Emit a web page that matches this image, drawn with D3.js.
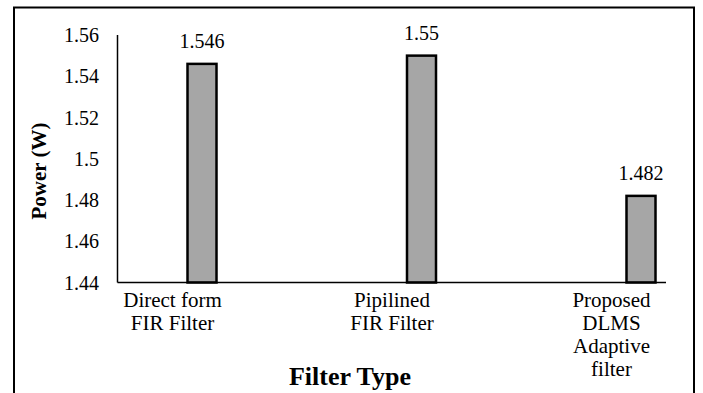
<!DOCTYPE html>
<html>
<head>
<meta charset="utf-8">
<script src="https://cdn.jsdelivr.net/npm/d3@7"></script>
<style>
  html, body { margin: 0; padding: 0; background: #fff; }
  svg { display: block; }
</style>
</head>
<body>
<script>
const categories = ["Direct form FIR Filter", "Pipilined FIR Filter", "Proposed DLMS Adaptive filter"];
const categoryLines = [["Direct form", "FIR Filter"], ["Pipilined", "FIR Filter"], ["Proposed", "DLMS", "Adaptive", "filter"]];
const powerValues = [1.546, 1.55, 1.482];
const yTicks = [1.44, 1.46, 1.48, 1.5, 1.52, 1.54, 1.56];
const yTickLabels = ["1.44", "1.46", "1.48", "1.5", "1.52", "1.54", "1.56"];
const xTitle = "Filter Type";
const yTitle = "Power (W)";

const FONT = "'Liberation Serif', 'Times New Roman', Times, serif";
const W = 703, H = 393;
const svg = d3.select("body").append("svg").attr("width", W).attr("height", H)
  .attr("font-family", FONT);

// outer border (open at bottom)
svg.append("path")
  .attr("d", `M14,${H + 5} L14,7.5 L694,7.5 L694,${H + 5}`)
  .attr("fill", "none").attr("stroke", "#000").attr("stroke-width", 2);

const plotLeft = 117.5, plotRight = 666, plotTop = 35, plotBottom = 282.5;

const y = d3.scaleLinear().domain([1.44, 1.56]).range([plotBottom, plotTop]);
const x = d3.scalePoint().domain(categories).range([172.5, 611.5]);
const barOffset = 15, barWidth = 29;

// y tick labels
svg.append("g").selectAll("text").data(yTicks).join("text")
  .attr("font-family", FONT)
  .attr("x", 99).attr("y", d => y(d)).attr("dy", "0.35em")
  .attr("text-anchor", "end").attr("font-size", 20)
  .text((d, i) => yTickLabels[i]);

// bars
svg.append("g").selectAll("rect").data(powerValues).join("rect")
  .attr("x", (d, i) => x(categories[i]) + barOffset)
  .attr("y", d => y(d))
  .attr("width", barWidth)
  .attr("height", d => y(1.44) - y(d))
  .attr("fill", "#a6a6a6").attr("stroke", "#000").attr("stroke-width", 2.5);

// value labels
svg.append("g").selectAll("text").data(powerValues).join("text")
  .attr("font-family", FONT)
  .attr("x", (d, i) => x(categories[i]) + barOffset + barWidth / 2)
  .attr("y", d => y(d) - 16)
  .attr("text-anchor", "middle").attr("font-size", 20)
  .text(d => String(d));

// axes lines
svg.append("line").attr("x1", plotLeft).attr("x2", plotLeft).attr("y1", plotTop).attr("y2", plotBottom)
  .attr("stroke", "#000").attr("stroke-width", 1.5);
svg.append("line").attr("x1", plotLeft).attr("x2", plotRight).attr("y1", plotBottom).attr("y2", plotBottom)
  .attr("stroke", "#000").attr("stroke-width", 1.5);

// category labels
const cat = svg.append("g").selectAll("text").data(categories).join("text")
  .attr("font-family", FONT)
  .attr("x", d => x(d)).attr("y", 307)
  .attr("text-anchor", "middle").attr("font-size", 21);
cat.selectAll("tspan").data((d, i) => categoryLines[i]).join("tspan")
  .attr("x", function () { return d3.select(this.parentNode).attr("x"); })
  .attr("dy", (d, j) => j === 0 ? 0 : 23)
  .text(d => d);

// axis titles
svg.append("text").attr("font-family", FONT).attr("x", 350).attr("y", 385).attr("text-anchor", "middle")
  .attr("font-size", 26).attr("font-weight", "bold").text(xTitle);
svg.append("text").attr("font-family", FONT).attr("transform", "translate(46,171) rotate(-90)").attr("text-anchor", "middle")
  .attr("font-size", 21).attr("font-weight", "bold").text(yTitle);
</script>
</body>
</html>
